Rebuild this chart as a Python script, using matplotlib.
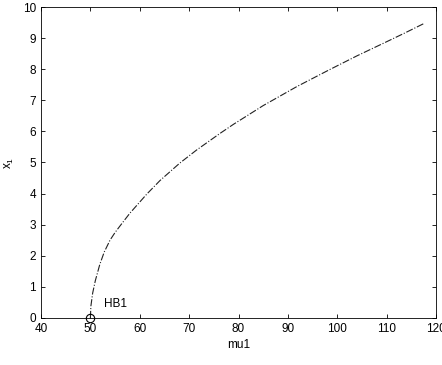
import matplotlib.pyplot as plt

plt.rcParams['font.family'] = ['Liberation Sans', 'DejaVu Sans']

# branch
mu1 = [50, 50.1, 50.46, 51.0, 51.9, 52.8, 54.0, 55.0, 56.0, 58.0, 61.4,
       64.1, 68.1, 71.5, 76.2, 79.0, 85.0, 91.8, 98.5, 104.0, 109.3,
       113.5, 117.7]
x1 = [0, 0.38, 0.8, 1.2, 1.72, 2.12, 2.51, 2.75, 2.96, 3.37, 3.98,
      4.42, 4.98, 5.4, 5.93, 6.23, 6.83, 7.44, 7.99, 8.43, 8.83,
      9.15, 9.48]
hb_mu, hb_x = 50, 0
hb_label = "HB1"

fig = plt.figure(figsize=(4.42, 3.65), dpi=100)
ax = fig.add_axes([0.0928, 0.1288, 0.8936, 0.852])

ax.plot(mu1, x1, color="#222222", linestyle="-.", linewidth=0.8)
ax.plot([hb_mu], [hb_x], marker="o", markersize=6, markerfacecolor="none",
        markeredgecolor="black", markeredgewidth=0.8, clip_on=False)
ax.text(hb_mu + 2.8, hb_x + 0.45, hb_label, fontsize=8.5, va="center")

ax.set_xlim(40, 120)
ax.set_ylim(0, 10)
ax.set_xticks(range(40, 121, 10))
ax.set_yticks(range(0, 11))
ax.tick_params(direction="in", top=True, right=True, labelsize=8.5,
               length=3, width=0.6)
for s in ax.spines.values():
    s.set_linewidth(0.6)
ax.set_xlabel("mu1", fontsize=8.5, labelpad=3)
ax.set_ylabel("$\\mathregular{x_1}$", fontsize=8.5, labelpad=5)

fig.savefig("out.png", dpi=100)
